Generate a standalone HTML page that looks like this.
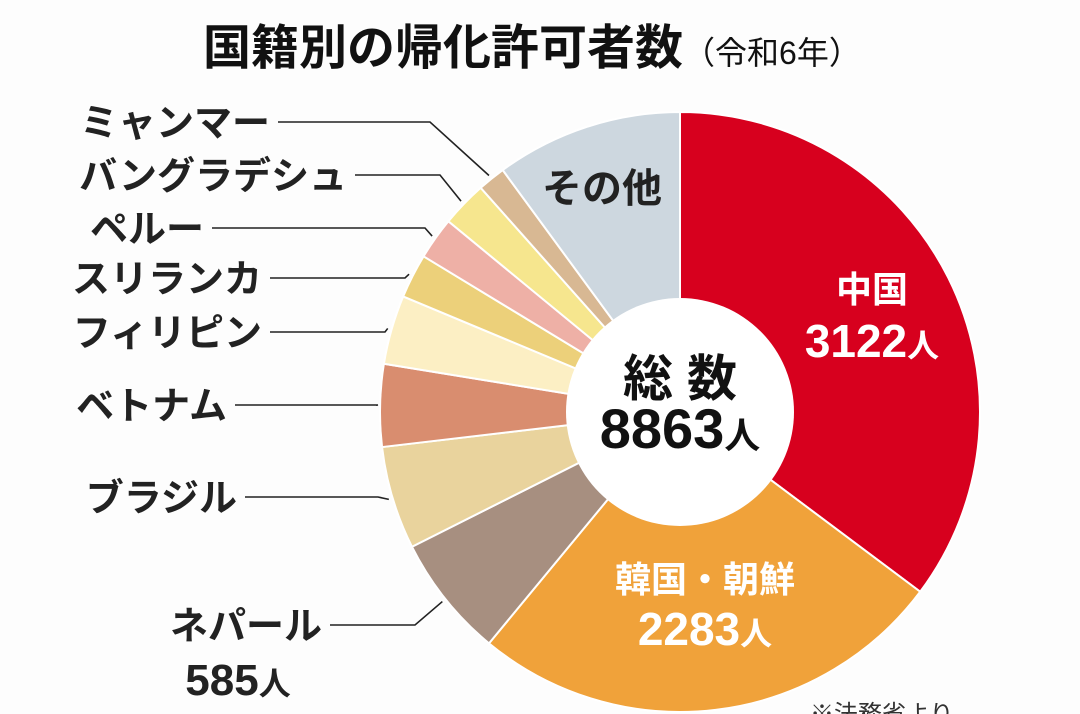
<!DOCTYPE html>
<html><head><meta charset="utf-8">
<style>
html,body{margin:0;padding:0;background:#fdfdfd;}
svg{display:block;font-family:"Liberation Sans","Noto Sans CJK JP",sans-serif;}
</style></head>
<body>
<svg id="chart" width="1080" height="714" viewBox="0 0 1080 714">
  <text x="203" y="64" font-size="48" font-weight="700" fill="#111">国籍別の帰化許可者数<tspan font-size="32" font-weight="400">（令和6年）</tspan></text>
  <g id="slices"></g>
  <circle cx="680" cy="412" r="114" fill="#fff"/>
  <text x="680" y="396" font-size="50" font-weight="700" text-anchor="middle" fill="#111">総 数</text>
  <text x="680" y="448" font-size="56" font-weight="700" text-anchor="middle" fill="#111">8863<tspan font-size="36">人</tspan></text>
  <g id="labels"></g>
  <text x="810" y="722" font-size="24" fill="#333">※法務省より</text>
</svg>
<script>
const categories = ["中国","韓国・朝鮮","ネパール","ブラジル","ベトナム","フィリピン","スリランカ","ペルー","バングラデシュ","ミャンマー","その他"];
const values = [3122,2283,585,492,393,330,212,202,219,133,892];
const colors = ["#d7001e","#f0a23a","#a78f80","#e9d39d","#d98d6f","#fcefc4","#ecd07a","#eeb0a6","#f6e68e","#d8b893","#cdd7df"];
const cx=680, cy=412, R=300;
const NS="http://www.w3.org/2000/svg";
const total = values.reduce((a,b)=>a+b,0);
function pt(angle,r){return [cx+r*Math.sin(angle), cy-r*Math.cos(angle)];}
const gS=document.getElementById('slices');
let a0=0;
const mids=[];
values.forEach((v,i)=>{
  const a1=a0+v/total*2*Math.PI;
  const p0=pt(a0,R), p1=pt(a1,R);
  const large=(a1-a0)>Math.PI?1:0;
  const path=document.createElementNS(NS,'path');
  path.setAttribute('d',`M${cx},${cy} L${p0[0]},${p0[1]} A${R},${R} 0 ${large} 1 ${p1[0]},${p1[1]} Z`);
  path.setAttribute('fill',colors[i]);
  path.setAttribute('stroke','#fff');
  path.setAttribute('stroke-width','2');
  
  
  gS.appendChild(path);
  mids.push((a0+a1)/2);
  a0=a1;
});
const gL=document.getElementById('labels');
function txt(x,y,s,size,fill,anchor,name){
  const t=document.createElementNS(NS,'text');
  t.setAttribute('x',x);t.setAttribute('y',y);t.setAttribute('font-size',size);
  t.setAttribute('fill',fill);t.setAttribute('text-anchor',anchor||'start');
  t.setAttribute('font-weight','700');
  t.innerHTML=s;
  
  
  gL.appendChild(t);
}
txt(872,302,categories[0],36,"#fff","middle",'label-china');
txt(872,357,values[0]+'<tspan font-size="32">人</tspan>',46,"#fff","middle",'value-china');
txt(705,592,categories[1],36,"#fff","middle",'label-korea');
txt(705,645,values[1]+'<tspan font-size="32">人</tspan>',46,"#fff","middle",'value-korea');
txt(602,202,categories[10],40,"#222","middle",'label-other');
const outside=[[9,122,278,430],[8,175,355,440],[7,228,212,425],[6,278,270,405],[5,332,270,385],[4,405,235,378],[3,497,245,378],[2,625,330,415]];
const names={2:'nepal',3:'brazil',4:'vietnam',5:'philippines',6:'srilanka',7:'peru',8:'bangladesh',9:'myanmar'};
outside.forEach(o=>{
  const [i,y,xe,xk]=o;
  const p=pt(mids[i],R+4);
  const pl=document.createElementNS(NS,'polyline');
  pl.setAttribute('points',`${xe},${y} ${xk},${y} ${p[0]},${p[1]}`);
  pl.setAttribute('fill','none');pl.setAttribute('stroke','#222');pl.setAttribute('stroke-width','1.6');
  
  
  gL.appendChild(pl);
  txt(xe-8,y+14,categories[i],38,"#222","end",'label-'+names[i]);
});
txt(238,695,values[2]+'<tspan font-size="32">人</tspan>',44,"#222","middle",'value-nepal');
</script>
</body></html>
